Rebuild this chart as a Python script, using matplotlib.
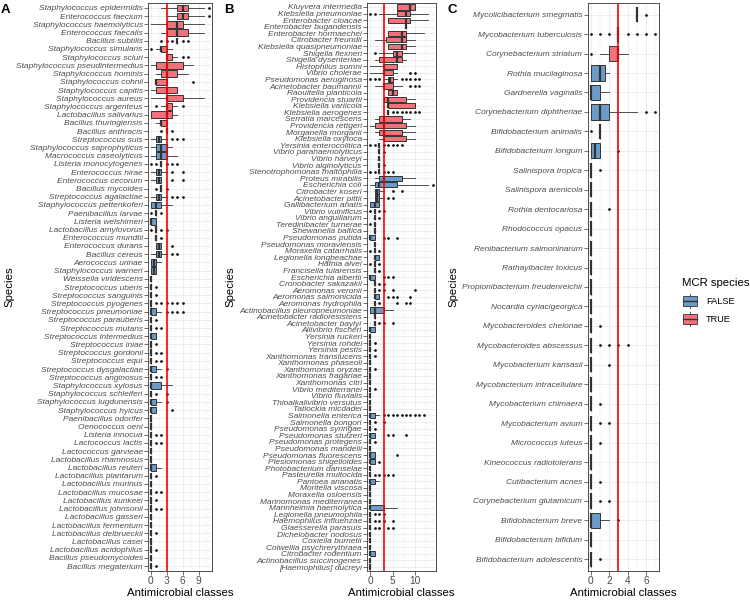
import matplotlib
matplotlib.use("Agg")
import matplotlib.pyplot as plt
from matplotlib.patches import Rectangle
from matplotlib.lines import Line2D

plt.rcParams["font.family"] = ["Liberation Sans", "DejaVu Sans"]

# ---------------- Panel A ----------------
A_species = [
    "Staphylococcus epidermidis", "Enterococcus faecium", "Staphylococcus haemolyticus",
    "Enterococcus faecalis", "Bacillus subtilis", "Staphylococcus simulans",
    "Staphylococcus sciuri", "Staphylococcus pseudintermedius", "Staphylococcus hominis",
    "Staphylococcus cohnii", "Staphylococcus capitis", "Staphylococcus aureus",
    "Staphylococcus argenteus", "Lactobacillus salivarius", "Bacillus thuringiensis",
    "Bacillus anthracis", "Streptococcus suis", "Staphylococcus saprophyticus",
    "Macrococcus caseolyticus", "Listeria monocytogenes", "Enterococcus hirae",
    "Enterococcus cecorum", "Bacillus mycoides", "Streptococcus agalactiae",
    "Staphylococcus pettenkoferi", "Paenibacillus larvae", "Listeria welshimeri",
    "Lactobacillus amylovorus", "Enterococcus mundtii", "Enterococcus durans",
    "Bacillus cereus", "Aerococcus urinae", "Staphylococcus warneri",
    "Weissella viridescens", "Streptococcus uberis", "Streptococcus sanguinis",
    "Streptococcus pyogenes", "Streptococcus pneumoniae", "Streptococcus parauberis",
    "Streptococcus mutans", "Streptococcus intermedius", "Streptococcus iniae",
    "Streptococcus gordonii", "Streptococcus equi", "Streptococcus dysgalactiae",
    "Streptococcus anginosus", "Staphylococcus xylosus", "Staphylococcus schleiferi",
    "Staphylococcus lugdunensis", "Staphylococcus hyicus", "Paenibacillus odorifer",
    "Oenococcus oeni", "Listeria innocua", "Lactococcus lactis",
    "Lactococcus garvieae", "Lactobacillus rhamnosus", "Lactobacillus reuteri",
    "Lactobacillus plantarum", "Lactobacillus murinus", "Lactobacillus mucosae",
    "Lactobacillus kunkeei", "Lactobacillus johnsonii", "Lactobacillus gasseri",
    "Lactobacillus fermentum", "Lactobacillus delbrueckii", "Lactobacillus casei",
    "Lactobacillus acidophilus", "Bacillus pseudomycoides", "Bacillus megaterium",
]
A_lo = [2, 3, 0, 2, 5, 1, 3, 0, 1, 1,
        0, 0, 2, 0, 1, 3, 0, 0, 0, 2,
        0, 0, 2, 0, 0, 1, 0, 1, 1, 1,
        0, 0, 0, 0, 0, 0, 0, 0, 0, 0,
        0, 0, 0, 0, 0, 0, 0, 0, 0, 0,
        0, 0, 0, 0, 0, 0, 0, 0, 0, 0,
        0, 0, 0, 0, 0, 0, 0, 0, 0]
A_q1 = [5, 5, 3, 3, 5, 2, 3, 1, 2, 1,
        1, 3, 3, 0, 2, 3, 1, 1, 1, 2,
        1, 1, 2, 1, 0, 1, 0, 1, 1, 1,
        1, 0, 0, 0, 0, 0, 0, 0, 0, 0,
        0, 0, 0, 0, 0, 0, 0, 0, 0, 0,
        0, 0, 0, 0, 0, 0, 0, 0, 0, 0,
        0, 0, 0, 0, 0, 0, 0, 0, 0]
A_med = [6, 6, 5, 5, 5, 2, 3, 3, 3, 1,
         3, 3, 3, 3, 2, 3, 1.5, 2, 2, 2,
         1.5, 1.5, 2, 1.5, 1, 1, 0, 1, 1, 1.5,
         1.5, 0.5, 0.5, 0, 0, 0, 0, 0, 0, 0,
         0, 0, 0, 0, 0, 0, 0, 0, 0, 0,
         0, 0, 0, 0, 0, 0, 0, 0, 0, 0,
         0, 0, 0, 0, 0, 0, 0, 0, 0]
A_q3 = [7, 7, 6, 7, 5, 3, 4, 6, 5, 3,
        5, 6, 4, 4, 3, 3, 2, 3, 3, 2,
        2, 2, 2, 2, 2, 1, 1, 1, 1, 2,
        2, 1, 1, 0, 0, 0, 0, 1, 0, 0,
        1, 0, 0, 0, 1, 0, 2, 0, 1, 1,
        0, 0, 0, 0, 0, 0, 1, 0, 0, 0,
        0, 0, 0, 0, 0, 0, 0, 0, 0]
A_hi = [10, 10, 10, 10, 5, 4, 5, 8, 7, 3,
        5, 10, 5, 5, 3, 3, 3, 4, 5, 2,
        3, 2, 2, 3, 4, 1, 1, 1, 1, 2,
        3, 2, 1, 0, 0, 0, 0, 2, 0, 0,
        1, 0, 0, 0, 2, 0, 4, 0, 2, 1,
        0, 0, 0, 0, 0, 0, 2, 0, 0, 0,
        0, 0, 0, 0, 0, 0, 0, 0, 0]
A_out = [[11], [11], [], [], [2, 3, 4, 6, 7], [0], [6, 7], [], [], [8],
         [], [], [1, 6], [], [], [2, 4], [4, 5, 6], [], [], [0, 1, 3, 4, 5],
         [4, 6], [4, 6], [1, 3], [4, 5, 6], [], [0, 2], [], [0, 2, 3], [2], [4],
         [4, 5], [], [], [], [1], [1], [1, 2, 3, 4, 5, 6], [3, 4, 5, 6], [1], [1, 2],
         [], [1], [1, 2], [1, 2], [3], [1, 2], [], [1, 3], [3], [4],
         [], [], [1, 2], [1, 2], [], [], [], [1], [], [1, 2],
         [1], [1, 2], [], [], [1], [], [1], [], [1]]
A_mcr = [True] * 16 + [False] * 53

# ---------------- Panel B ----------------
B_species = [
    "Kluyvera intermedia", "Klebsiella pneumoniae", "Enterobacter cloacae",
    "Enterobacter bugandensis", "Enterobacter hormaechei", "Citrobacter freundii",
    "Klebsiella quasipneumoniae", "Shigella flexneri", "Shigella dysenteriae",
    "Histophilus somni", "Vibrio cholerae", "Pseudomonas aeruginosa",
    "Acinetobacter baumannii", "Raoultella planticola", "Providencia stuartii",
    "Klebsiella variicola", "Klebsiella aerogenes", "Serratia marcescens",
    "Providencia rettgeri", "Morganella morganii", "Klebsiella oxytoca",
    "Yersinia enterocolitica", "Vibrio parahaemolyticus", "Vibrio harveyi",
    "Vibrio alginolyticus", "Stenotrophomonas maltophilia", "Proteus mirabilis",
    "Escherichia coli", "Citrobacter koseri", "Acinetobacter pittii",
    "Gallibacterium anatis", "Vibrio vulnificus", "Vibrio anguillarum",
    "Teredinibacter turnerae", "Shewanella baltica", "Pseudomonas putida",
    "Pseudomonas moraviensis", "Moraxella catarrhalis", "Legionella longbeachae",
    "Hafnia alvei", "Francisella tularensis", "Escherichia albertii",
    "Cronobacter sakazakii", "Aeromonas veronii", "Aeromonas salmonicida",
    "Aeromonas hydrophila", "Actinobacillus pleuropneumoniae", "Acinetobacter radioresistens",
    "Acinetobacter baylyi", "Aliivibrio fischeri", "Yersinia ruckeri",
    "Yersinia rohdei", "Yersinia pestis", "Xanthomonas translucens",
    "Xanthomonas phaseoli", "Xanthomonas oryzae", "Xanthomonas fragariae",
    "Xanthomonas citri", "Vibrio mediterranei", "Vibrio fluvialis",
    "Thioalkalivibrio versutus", "Tatlockia micdadei", "Salmonella enterica",
    "Salmonella bongori", "Pseudomonas syringae", "Pseudomonas stutzeri",
    "Pseudomonas protegens", "Pseudomonas mandelii", "Pseudomonas fluorescens",
    "Plesiomonas shigelloides", "Photobacterium damselae", "Pasteurella multocida",
    "Pantoea ananatis", "Moritella viscosa", "Moraxella osloensis",
    "Marinomonas mediterranea", "Mannheimia haemolytica", "Legionella pneumophila",
    "Haemophilus influenzae", "Glaesserella parasuis", "Dichelobacter nodosus",
    "Coxiella burnetii", "Colwellia psychrerythraea", "Citrobacter rodentium",
    "Actinobacillus succinogenes", "[Haemophilus] ducreyi",
]
B_lo = [6, 2, 4, 8, 4, 1, 4, 2, 1, 0,
        0, 3, 1, 4, 3, 4, 4, 1, 0, 1,
        2, 2, 2, 2, 2, 2, 1, 0, 1, 1,
        0, 1, 1, 1, 1, 0, 1, 1, 1, 1,
        1, 0, 1, 1, 1, 1, 0, 1, 1, 0,
        0, 0, 0, 0, 0, 0, 0, 0, 0, 0,
        0, 0, 0, 0, 0, 0, 0, 0, 0, 0,
        0, 0, 0, 0, 0, 0, 0, 0, 0, 0,
        0, 0, 0, 0, 0, 0]
B_q1 = [6, 6, 4, 8, 4, 3.5, 4, 5, 2, 3,
        3, 4, 3, 4, 3, 4, 4, 2, 1, 2,
        3, 2, 2, 2, 2, 2, 2, 1, 1, 1,
        0, 1, 1, 1, 1, 0, 1, 1, 1, 1,
        1, 0, 1, 1, 1, 1, 0, 1, 1, 0,
        0, 0, 0, 0, 0, 0, 0, 0, 0, 0,
        0, 0, 0, 0, 0, 0, 0, 0, 0, 0,
        0, 0, 0, 0, 0, 0, 0, 0, 0, 0,
        0, 0, 0, 0, 0, 0]
B_med = [9, 8, 8, 8, 7, 7, 7, 6, 6, 3,
         3, 4.5, 3, 5, 4, 4, 4, 3, 3, 3,
         3, 2, 2, 2, 2, 2, 3, 2, 1.5, 1.5,
         1, 1, 1, 1, 1, 0, 1, 1, 1, 1,
         1, 0, 1, 1, 1, 1, 1, 1, 1, 0,
         0, 0, 0, 0, 0, 0, 0, 0, 0, 0,
         0, 0, 0, 0, 0, 0, 0, 0, 0, 0,
         0, 0, 0, 0, 0, 0, 0, 0, 0, 0,
         0, 0, 0, 0, 0, 0]
B_q3 = [10, 9, 9, 8, 8, 8, 8, 7, 7, 6,
        5, 5, 5, 6, 8, 10, 4, 7, 8, 7,
        8, 2, 2, 2, 2, 2, 7, 6, 2, 2,
        2, 1, 1, 1, 1, 1, 1, 1, 2, 1,
        1, 1, 1, 1, 2, 1, 3, 1, 1, 1,
        0, 0, 0, 0, 0, 0, 0, 0, 0, 0,
        0, 0, 1, 0, 0, 1, 0, 0, 1, 1,
        0, 0, 1, 0, 0, 0, 3, 0, 0, 0,
        0, 0, 0, 1, 0, 0]
B_hi = [10, 13, 13, 8, 12, 10, 10, 10, 8, 6,
        6, 6, 7, 6, 10, 10, 4, 9, 10, 10,
        10, 2, 2, 2, 2, 2, 10, 13, 3, 3,
        2, 1, 1, 1, 1, 1, 1, 1, 2, 1,
        1, 1, 1, 1, 2, 1, 5, 1, 1, 1,
        0, 0, 0, 0, 0, 0, 0, 0, 0, 0,
        0, 0, 2, 0, 0, 1, 0, 0, 1, 1,
        0, 0, 2, 0, 0, 0, 6, 0, 0, 0,
        0, 0, 0, 1, 0, 0]
B_out = [[], [0, 1], [], [], [], [], [], [1], [], [],
         [9, 10], [0, 1, 2, 7, 8, 9, 10, 11], [9, 10, 11], [], [], [], [5, 6, 7, 8, 9, 10, 11], [], [], [],
         [], [0, 1, 3, 4, 5, 6, 7], [3], [], [3], [0, 1, 3, 4, 5], [], [14], [5, 7], [4, 5],
         [], [0, 2, 3], [2], [0], [], [3, 4, 6], [], [0, 2], [], [0, 2],
         [2], [3, 4, 5], [2, 3], [2, 3, 5, 10], [4, 5, 6, 9], [2, 6, 8, 9], [], [], [2, 3, 5], [],
         [], [1], [1], [1], [], [1], [], [], [1], [],
         [], [], [3, 4, 5, 6, 7, 8, 9, 10, 11, 12], [1, 3], [1], [4, 5, 8], [1], [], [6], [2],
         [], [1, 2, 3, 4, 5], [], [], [], [], [], [1, 2, 3], [1, 2, 3, 5], [1, 2, 4, 5],
         [], [], [], [], [], []]
B_mcr = [True] * 21 + [False] * 65

# ---------------- Panel C ----------------
C_species = [
    "Mycolicibacterium smegmatis", "Mycobacterium tuberculosis", "Corynebacterium striatum",
    "Rothia mucilaginosa", "Gardnerella vaginalis", "Corynebacterium diphtheriae",
    "Bifidobacterium animalis", "Bifidobacterium longum", "Salinispora tropica",
    "Salinispora arenicola", "Rothia dentocariosa", "Rhodococcus opacus",
    "Renibacterium salmoninarum", "Rathayibacter toxicus", "Propionibacterium freudenreichii",
    "Nocardia cyriacigeorgica", "Mycobacteroides chelonae", "Mycobacteroides abscessus",
    "Mycobacterium kansasii", "Mycobacterium intracellulare", "Mycobacterium chimaera",
    "Mycobacterium avium", "Micrococcus luteus", "Kineococcus radiotolerans",
    "Cutibacterium acnes", "Corynebacterium glutamicum", "Bifidobacterium breve",
    "Bifidobacterium bifidum", "Bifidobacterium adolescentis",
]
C_lo = [5, 3, 1, 0, 0, 0, 1, 0, 0, 0,
        0, 0, 0, 0, 0, 0, 0, 0, 0, 0,
        0, 0, 0, 0, 0, 0, 0, 0, 0]
C_q1 = [5, 3, 2, 0, 0, 0, 1, 0, 0, 0,
        0, 0, 0, 0, 0, 0, 0, 0, 0, 0,
        0, 0, 0, 0, 0, 0, 0, 0, 0]
C_med = [5, 3, 3, 1, 0, 1, 1, 0.5, 0, 0,
         0, 0, 0, 0, 0, 0, 0, 0, 0, 0,
         0, 0, 0, 0, 0, 0, 0, 0, 0]
C_q3 = [5, 3, 3, 1.5, 1, 2, 1, 1, 0, 0,
        0, 0, 0, 0, 0, 0, 0, 0, 0, 0,
        0, 0, 0, 0, 0, 0, 1, 0, 0]
C_hi = [5, 3, 4, 2, 2, 5, 1, 1, 0, 0,
        0, 0, 0, 0, 0, 0, 0, 0, 0, 0,
        0, 0, 0, 0, 0, 0, 2, 0, 0]
C_out = [[6], [0, 1, 2, 4, 5, 6, 7], [0], [], [], [6, 7], [0], [3], [1], [],
         [2], [], [], [], [], [], [1], [1, 2, 3, 4], [2], [],
         [1], [1, 2], [1], [], [1], [1, 2], [3], [], [1]]
C_mcr = [False, False, True] + [False] * 26

FILL = {False: "#6A9BC9", True: "#F2727B"}
EDGE = "#333333"
GRID = "#EBEBEB"
W, H = 750, 606


def draw_panel(rect, species, lo, q1, med, q3, hi, out, mcr, xlim, major, minor):
    ax = fig.add_axes(rect)
    n = len(species)
    stats = [dict(whislo=lo[i], q1=q1[i], med=med[i], q3=q3[i], whishi=hi[i], fliers=out[i])
             for i in range(n)]
    pos = list(range(1, n + 1))
    bp = ax.bxp(stats, positions=pos, widths=0.78, orientation="horizontal",
                patch_artist=True, showcaps=False,
                boxprops=dict(edgecolor=EDGE, linewidth=0.7),
                whiskerprops=dict(color=EDGE, linewidth=0.6),
                medianprops=dict(color=EDGE, linewidth=1.6),
                flierprops=dict(marker="o", markerfacecolor="black", markeredgecolor="none",
                                markersize=1.9))
    for patch, m in zip(bp["boxes"], mcr):
        patch.set_facecolor(FILL[m])
    ax.axvline(3, color="red", linewidth=1.2, zorder=5)

    ax.set_xlim(*xlim)
    ax.set_ylim(n + 0.6, 0.4)
    ax.set_yticks(pos)
    ax.set_yticklabels(species, fontsize=6, style="italic", color="#4D4D4D")
    ax.set_xticks(major)
    ax.set_xticklabels([str(v) for v in major], fontsize=7.3, color="#4D4D4D")
    ax.set_xticks(minor, minor=True)
    ax.tick_params(axis="x", which="minor", length=0)
    ax.tick_params(which="major", length=2.7, width=0.5, color=EDGE, pad=1)
    ax.set_axisbelow(True)
    ax.grid(True, which="major", color=GRID, linewidth=0.6)
    ax.grid(True, which="minor", axis="x", color=GRID, linewidth=0.35)
    for s in ax.spines.values():
        s.set_color(EDGE)
        s.set_linewidth(0.6)
    return ax


fig = plt.figure(figsize=(7.5, 6.06), dpi=100)
bot, top = 571, 3
hgt = (bot - top) / H
y0 = 1 - bot / H

axA = draw_panel([148 / W, y0, 64 / W, hgt], A_species, A_lo, A_q1, A_med, A_q3, A_hi,
                 A_out, A_mcr, (-0.55, 11.55), [0, 3, 6, 9], [1.5, 4.5, 7.5, 10.5])
axB = draw_panel([367 / W, y0, 69 / W, hgt], B_species, B_lo, B_q1, B_med, B_q3, B_hi,
                 B_out, B_mcr, (-0.7, 14.7), [0, 5, 10], [2.5, 7.5, 12.5])
axC = draw_panel([587.5 / W, y0, 71 / W, hgt], C_species, C_lo, C_q1, C_med, C_q3, C_hi,
                 C_out, C_mcr, (-0.35, 7.35), [0, 2, 4, 6], [1, 3, 5, 7])

for ax in (axA, axB, axC):
    bb = ax.get_position()
    fig.text((bb.x0 + bb.x1) / 2, 1 - 593 / H, "Antimicrobial classes",
             ha="center", va="center", fontsize=8.2)

ymid = 1 - 287 / H
for x in (9, 230, 453):
    fig.text(x / W, ymid, "Species", rotation=90, ha="center", va="center", fontsize=8.2)

for x, lab in ((1, "A"), (224, "B"), (447, "C")):
    fig.text(x / W, 1 - 4 / H, lab, ha="left", va="top", fontsize=9.5, fontweight="bold")

# legend
fig.text(682 / W, 1 - 283 / H, "MCR species", ha="left", va="center", fontsize=8.2)
for yc, m, lab in ((301, False, "FALSE"), (319, True, "TRUE")):
    kx, kw, kh = 683, 14, 9.3
    fig.add_artist(Rectangle((kx / W, 1 - (yc + kh / 2) / H), kw / W, kh / H,
                             transform=fig.transFigure, facecolor=FILL[m],
                             edgecolor=EDGE, linewidth=0.6))
    fig.add_artist(Line2D([kx / W, (kx + kw) / W], [1 - yc / H, 1 - yc / H],
                          transform=fig.transFigure, color=EDGE, linewidth=1.0))
    cx = (kx + kw / 2) / W
    for a, b in ((yc - kh / 2, yc - kh / 2 - 2.5), (yc + kh / 2, yc + kh / 2 + 2.5)):
        fig.add_artist(Line2D([cx, cx], [1 - a / H, 1 - b / H],
                              transform=fig.transFigure, color=EDGE, linewidth=0.6))
    fig.text(706 / W, 1 - yc / H, lab, ha="left", va="center", fontsize=6.6)

fig.savefig("out.png", dpi=100)
